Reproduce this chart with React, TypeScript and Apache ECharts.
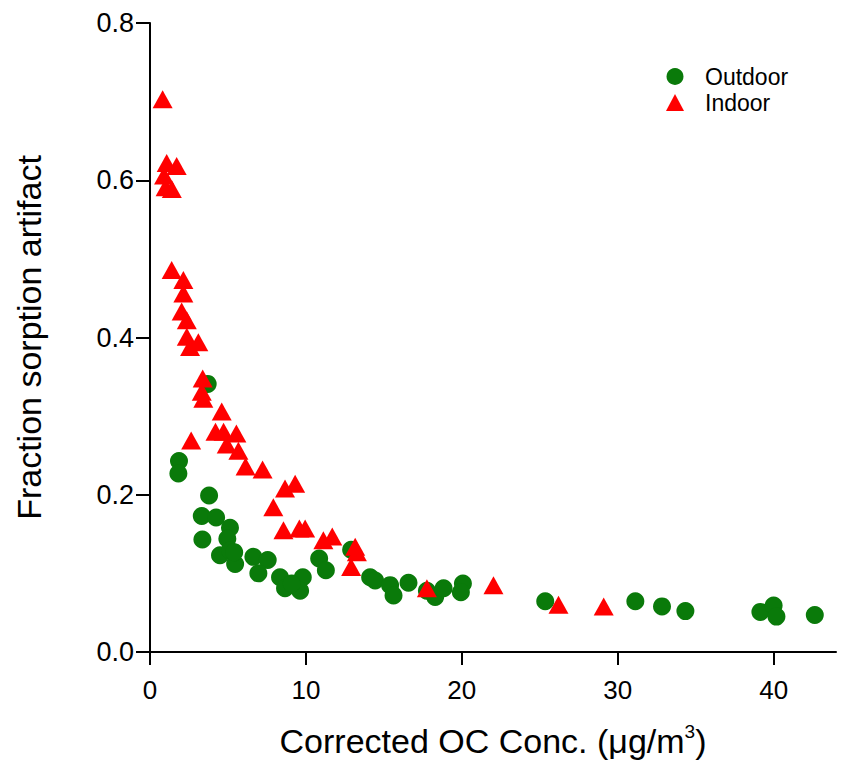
import React, { useEffect, useRef } from "react";
import * as echarts from "echarts";

const outdoorX = [3.7, 1.86, 1.82, 3.79, 3.32, 4.24, 5.13, 3.36, 4.96, 4.49, 5.13, 5.46, 5.4, 6.63, 7.55, 6.95, 8.34, 9.8, 8.66, 9.63, 9.09, 10.85, 11.28, 12.9, 14.12, 14.44, 15.4, 15.62, 16.58, 17.76, 18.29, 18.83, 20.07, 19.94, 25.35, 31.13, 32.84, 34.34, 39.15, 40.0, 40.18, 42.64];
const outdoorY = [0.341, 0.243, 0.227, 0.199, 0.173, 0.171, 0.158, 0.143, 0.144, 0.123, 0.129, 0.112, 0.127, 0.121, 0.117, 0.1, 0.095, 0.095, 0.081, 0.078, 0.087, 0.119, 0.104, 0.13, 0.095, 0.091, 0.085, 0.072, 0.088, 0.078, 0.07, 0.081, 0.087, 0.076, 0.0645, 0.0645, 0.058, 0.052, 0.051, 0.059, 0.045, 0.047];

const indoorX = [0.81, 1.07, 1.71, 0.9, 1.0, 1.4, 1.39, 2.14, 2.14, 2.03, 2.36, 2.36, 3.1, 2.57, 3.38, 3.32, 3.42, 4.6, 2.64, 4.2, 4.72, 5.54, 4.92, 5.67, 6.13, 7.22, 8.66, 9.31, 7.91, 8.56, 9.58, 9.95, 11.12, 11.69, 13.16, 13.27, 12.9, 17.76, 22.03, 26.2, 29.1];
const indoorY = [0.703, 0.622, 0.618, 0.606, 0.591, 0.589, 0.486, 0.473, 0.456, 0.433, 0.422, 0.401, 0.394, 0.388, 0.348, 0.331, 0.322, 0.306, 0.269, 0.28, 0.28, 0.278, 0.264, 0.256, 0.236, 0.232, 0.208, 0.214, 0.184, 0.155, 0.157, 0.157, 0.142, 0.147, 0.134, 0.127, 0.108, 0.081, 0.085, 0.06, 0.058];

const seriesNames = ["Outdoor", "Indoor"];
const xTitle = "Corrected OC Conc. (μg/m{sup|3})";
const yTitle = "Fraction sorption artifact";

export default function App() {
  const ref = useRef<HTMLDivElement>(null);
  useEffect(() => {
    document.body.style.margin = "0";
    const chart = echarts.init(ref.current!, null, { renderer: "svg" });
    const font = "Liberation Sans, Arial, sans-serif";
    chart.setOption({
      animation: false,
      backgroundColor: "#ffffff",
      textStyle: { fontFamily: font },
      grid: { left: 150, top: 23, right: 9, bottom: 111 },
      legend: {
        orient: "vertical",
        left: 661,
        top: 60,
        itemWidth: 18,
        itemHeight: 17,
        itemGap: 3,
        textStyle: { fontSize: 23, color: "#000", fontFamily: font, padding: [0, 0, 0, 16] },
        data: [
          { name: seriesNames[0], icon: "circle" },
          { name: seriesNames[1], icon: "triangle" },
        ],
      },
      xAxis: {
        type: "value",
        min: 0,
        max: 44,
        interval: 10,
        name: xTitle,
        nameLocation: "middle",
        nameGap: 70,
        nameTextStyle: {
          fontSize: 34,
          color: "#000",
          fontFamily: font,
          rich: { sup: { fontSize: 19, verticalAlign: "top", padding: [0, 0, 18, 0], color: "#000", fontFamily: font } },
        },
        axisLine: { show: true, lineStyle: { color: "#000", width: 2 } },
        axisTick: { show: true, inside: false, length: 13, lineStyle: { color: "#000", width: 2 } },
        axisLabel: { fontSize: 26, color: "#000", margin: 25, fontFamily: font, showMaxLabel: false },
        splitLine: { show: false },
      },
      yAxis: {
        type: "value",
        min: 0,
        max: 0.8,
        interval: 0.2,
        name: yTitle,
        nameLocation: "middle",
        nameGap: 104,
        nameTextStyle: { fontSize: 34, color: "#000", fontFamily: font },
        axisLine: { show: true, lineStyle: { color: "#000", width: 2 } },
        axisTick: { show: true, inside: false, length: 14, lineStyle: { color: "#000", width: 2 } },
        axisLabel: {
          fontSize: 27,
          color: "#000",
          margin: 16,
          fontFamily: font,
          formatter: (v: number) => v.toFixed(1),
        },
        splitLine: { show: false },
      },
      series: [
        {
          name: seriesNames[0],
          type: "scatter",
          symbol: "circle",
          symbolSize: 18,
          itemStyle: { color: "#0a7a0a", opacity: 1 },
          data: outdoorX.map((x, i) => [x, outdoorY[i]]),
        },
        {
          name: seriesNames[1],
          type: "scatter",
          symbol: "triangle",
          symbolSize: [20, 18],
          itemStyle: { color: "#ff0000", opacity: 1 },
          data: indoorX.map((x, i) => [x, indoorY[i]]),
        },
      ],
    });
    return () => chart.dispose();
  }, []);
  return <div ref={ref} style={{ width: 845, height: 763 }} />;
}
